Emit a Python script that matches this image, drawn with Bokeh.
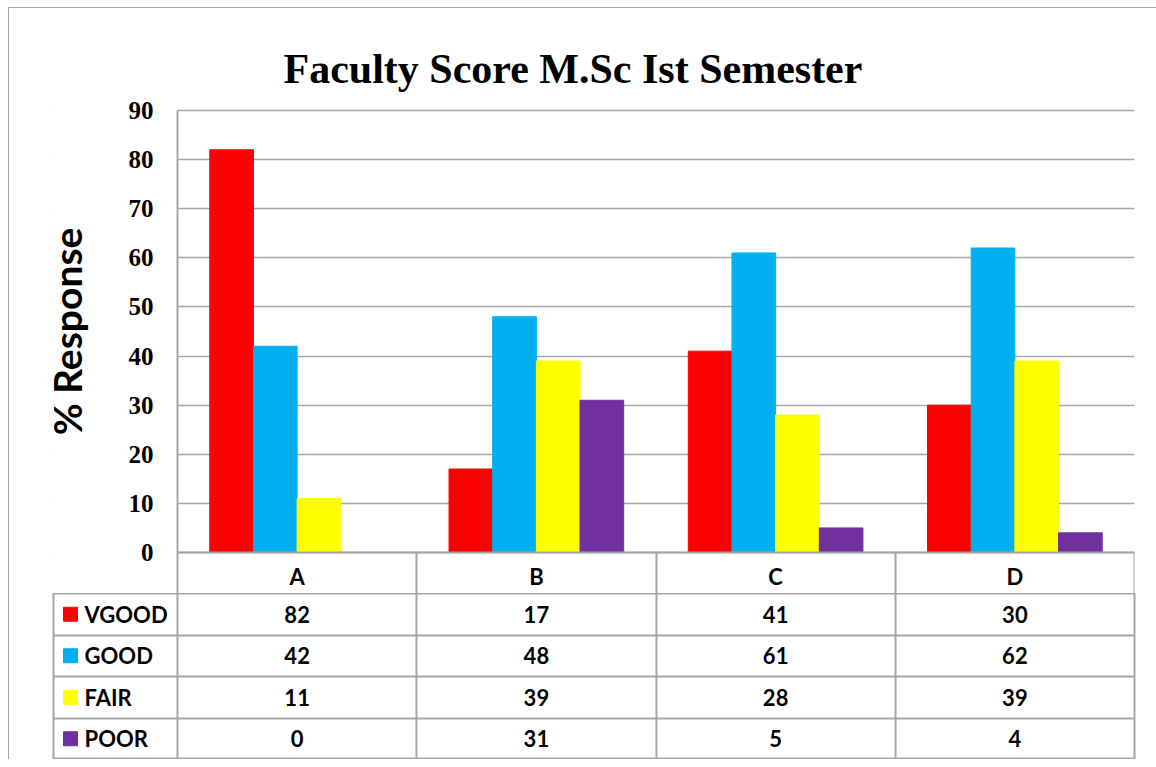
import numpy as np
from bokeh.plotting import figure
from bokeh.layouts import column
from bokeh.models import ColumnDataSource, FixedTicker, Range1d, Grid, BoxAnnotation
from bokeh.transform import dodge
from bokeh.core.properties import value
from bokeh.embed import file_html
from bokeh.resources import INLINE

# ---------------- data ----------------
faculty = ["A", "B", "C", "D"]
vgood = [82, 17, 41, 30]
good = [42, 48, 61, 62]
fair = [11, 39, 28, 39]
poor = [0, 31, 5, 4]
series_names = ["VGOOD", "GOOD", "FAIR", "POOR"]
series_values = [vgood, good, fair, poor]
series_colors = ["#FF0000", "#00B0F0", "#FFFF00", "#7030A0"]
y_ticks = [0, 10, 20, 30, 40, 50, 60, 70, 80, 90]
title_text = "Faculty Score M.Sc Ist  Semester"
y_label = "% Response"

# ---------------- style / layout ----------------
GRID = "#A6A6A6"
SANS = "Lato"
SERIF = "Liberation Serif"
BAR_W = 0.1825
LEGEND_COL = 0.5183          # width of the table's legend column, in category units
W = 1147
ML, MR = 44, 22
PLOT_H = 442                 # pixel height of the 0..90 value area
TOP_PAD = 15                 # room above 90 for its tick label
HEADER_H = 41                # header row of the table (category names)
y_max = y_ticks[-1]
px_per_unit = PLOT_H / y_max

n = len(faculty)
xc = [i + 0.5 for i in range(n)]
src = ColumnDataSource(dict(x=xc, **{nm: vals for nm, vals in zip(series_names, series_values)}))

# ---------------- chart ----------------
p = figure(width=W, height=87 + TOP_PAD + PLOT_H + HEADER_H,
           x_range=Range1d(-LEGEND_COL, n),
           y_range=Range1d(-HEADER_H / px_per_unit, y_max + TOP_PAD / px_per_unit),
           output_backend="svg", toolbar_location=None,
           min_border_left=ML, min_border_right=MR, min_border_top=87, min_border_bottom=0)
p.outline_line_color = None
p.xgrid.visible = False
p.ygrid.ticker = FixedTicker(ticks=y_ticks)
p.ygrid.grid_line_color = GRID
p.ygrid.grid_line_width = 1.5
# blank the grid over the table's legend column
p.add_layout(BoxAnnotation(right=0, fill_color="white", fill_alpha=1.0, line_alpha=0, level="underlay"))

for k, (name, color) in enumerate(zip(series_names, series_colors)):
    off = (k - (len(series_names) - 1) / 2) * BAR_W
    p.vbar(x=dodge("x", off), top=name, width=BAR_W, source=src,
           fill_color=color, line_color=color)

# y axis (drawn at the left edge of the category area)
p.yaxis.fixed_location = 0
p.yaxis.bounds = (0, y_max)
p.yaxis.ticker = FixedTicker(ticks=y_ticks)
p.yaxis.major_tick_line_color = None
p.yaxis.minor_tick_line_color = None
p.yaxis.major_tick_out = 0
p.yaxis.axis_line_color = GRID
p.yaxis.axis_line_width = 2
p.yaxis.major_label_text_font = SERIF
p.yaxis.major_label_text_font_style = "bold"
p.yaxis.major_label_text_font_size = "25px"
p.yaxis.major_label_text_color = "black"
p.yaxis.major_label_standoff = 24
p.yaxis.axis_label = y_label
p.yaxis.axis_label_text_font = SANS
p.yaxis.axis_label_text_font_style = "bold"
p.yaxis.axis_label_text_font_size = "39px"
p.yaxis.axis_label_text_color = "black"
p.yaxis.axis_label_standoff = 36

# x axis at value 0 = header row of the table
p.xaxis.fixed_location = 0
p.xaxis.bounds = (0, n)
p.xaxis.ticker = FixedTicker(ticks=xc, minor_ticks=list(range(n + 1)))
p.xaxis.major_label_overrides = {x: f for x, f in zip(xc, faculty)}
p.xaxis.major_tick_line_color = None
p.xaxis.major_tick_out = 0
p.xaxis.major_tick_in = 0
p.xaxis.minor_tick_in = 0
p.xaxis.minor_tick_out = HEADER_H
p.xaxis.minor_tick_line_color = GRID
p.xaxis.minor_tick_line_width = 2
p.xaxis.axis_line_color = GRID
p.xaxis.axis_line_width = 2
p.xaxis.major_label_text_font = SANS
p.xaxis.major_label_text_font_style = "bold"
p.xaxis.major_label_text_font_size = "22px"
p.xaxis.major_label_text_color = "black"
p.xaxis.major_label_standoff = -31

# title
p.title.text = title_text
p.title.align = "left"
p.title.offset = 230
p.title.text_font = SERIF
p.title.text_font_style = "bold"
p.title.text_font_size = "42px"
p.title.text_color = "black"
p.title.standoff = 8

# ---------------- data table ----------------
nrows = len(series_names)
t = figure(width=W, height=166, x_range=Range1d(-LEGEND_COL, n), y_range=Range1d(0, nrows),
           output_backend="svg", toolbar_location=None, x_axis_type=None, y_axis_type=None,
           min_border_left=ML, min_border_right=MR, min_border_top=0, min_border_bottom=0)
t.outline_line_color = GRID
t.outline_line_width = 2
t.add_layout(Grid(dimension=0, ticker=FixedTicker(ticks=list(range(n))),
                  grid_line_color=GRID, grid_line_width=2))
t.add_layout(Grid(dimension=1, ticker=FixedTicker(ticks=list(range(1, nrows))),
                  grid_line_color=GRID, grid_line_width=2))

row_y = [nrows - 0.5 - r for r in range(nrows)]
cx, cy, ct = [], [], []
for r, vals in enumerate(series_values):
    for i, v in enumerate(vals):
        cx.append(xc[i]); cy.append(row_y[r]); ct.append(str(v))
t.text(x=cx, y=cy, text=ct, text_align="center", text_baseline="middle",
       text_font=value(SANS), text_font_style="bold", text_font_size="22px", text_color="black")

sq_x = -LEGEND_COL + 0.071
lab_x = -LEGEND_COL + 0.13
t.scatter(x=[sq_x] * nrows, y=row_y, marker="square", size=14,
          fill_color=series_colors, line_color=series_colors)
t.text(x=[lab_x] * nrows, y=row_y, text=series_names, text_align="left", text_baseline="middle",
       text_font=value(SANS), text_font_style="bold", text_font_size="22px", text_color="black")

layout = column(p, t, styles={"margin-left": "8px", "margin-top": "7px",
                              "border-left": "1px solid #A6A6A6", "border-top": "1px solid #A6A6A6"})

open("out.html", "w").write(file_html(layout, INLINE))
